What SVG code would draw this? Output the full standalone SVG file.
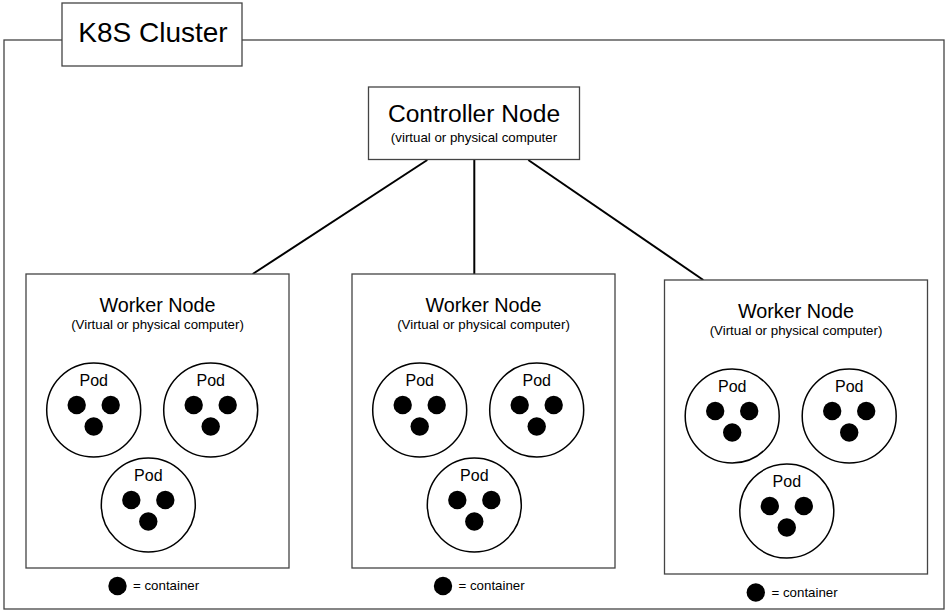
<svg xmlns="http://www.w3.org/2000/svg" width="947" height="613" viewBox="0 0 947 613">
  <style>
    text { font-family: "Liberation Sans", Arial, Helvetica, sans-serif; fill: #000; }
    .box { fill: #fff; stroke: #444; stroke-width: 1.3; }
    .pod { fill: #fff; stroke: #000; stroke-width: 1.5; }
    .ctr { fill: #000; }
    .conn { stroke: #000; stroke-width: 2; fill: none; }
    .t28 { font-size: 28px; }
    .t24 { font-size: 24.6px; }
    .t19 { font-size: 19.8px; }
    .t15 { font-size: 16px; }
    .t13 { font-size: 13.3px; }
  </style>
  <defs>
    <g id="podShape">
      <circle class="pod" cx="0" cy="0" r="47"/>
      <text class="t15" x="0" y="-24" text-anchor="middle">Pod</text>
      <circle class="ctr" cx="-17" cy="-5" r="9.2"/>
      <circle class="ctr" cx="17" cy="-5" r="9.2"/>
      <circle class="ctr" cx="0" cy="16.5" r="9.2"/>
    </g>
  </defs>
  <rect x="0" y="0" width="947" height="613" fill="#fff"/>

  <g id="cluster">
    <rect class="box" x="4" y="40" width="940" height="569"/>
    <rect class="box" x="62" y="3" width="180" height="63"/>
    <text class="t28" x="153" y="42" text-anchor="middle">K8S Cluster</text>
  </g>

  <g id="connectors">
    <line class="conn" x1="427.3" y1="160" x2="252.7" y2="274"/>
    <line class="conn" x1="474.3" y1="160" x2="474.3" y2="274"/>
    <line class="conn" x1="528.3" y1="160" x2="703.3" y2="280"/>
  </g>

  <g id="controller">
    <rect class="box" x="368.5" y="87" width="211" height="72.5"/>
    <text class="t24" x="474" y="122" text-anchor="middle">Controller Node</text>
    <text class="t13" x="474" y="142" text-anchor="middle">(virtual or physical computer</text>
  </g>

  <g id="worker1" transform="translate(26,274)">
    <rect class="box" x="0" y="0" width="263" height="294"/>
    <text class="t19" x="131.5" y="38" text-anchor="middle">Worker Node</text>
    <text class="t13" x="131.5" y="55" text-anchor="middle">(Virtual or physical computer)</text>
    <use href="#podShape" x="67.7" y="136"/>
    <use href="#podShape" x="184.7" y="136"/>
    <use href="#podShape" x="122.3" y="231"/>
    <circle class="ctr" cx="91.5" cy="312" r="9.2"/>
    <text class="t13" x="107" y="316">= container</text>
  </g>

  <g id="worker2" transform="translate(352,274)">
    <rect class="box" x="0" y="0" width="263" height="294"/>
    <text class="t19" x="131.5" y="38" text-anchor="middle">Worker Node</text>
    <text class="t13" x="131.5" y="55" text-anchor="middle">(Virtual or physical computer)</text>
    <use href="#podShape" x="67.7" y="136"/>
    <use href="#podShape" x="184.7" y="136"/>
    <use href="#podShape" x="122.3" y="231"/>
    <circle class="ctr" cx="91" cy="312" r="9.2"/>
    <text class="t13" x="106.5" y="316">= container</text>
  </g>

  <g id="worker3" transform="translate(664.5,280)">
    <rect class="box" x="0" y="0" width="263" height="294"/>
    <text class="t19" x="131.5" y="38" text-anchor="middle">Worker Node</text>
    <text class="t13" x="131.5" y="55" text-anchor="middle">(Virtual or physical computer)</text>
    <use href="#podShape" x="67.7" y="136"/>
    <use href="#podShape" x="184.7" y="136"/>
    <use href="#podShape" x="122.3" y="231"/>
    <circle class="ctr" cx="91.3" cy="312.5" r="9.2"/>
    <text class="t13" x="107" y="316.5">= container</text>
  </g>
</svg>
